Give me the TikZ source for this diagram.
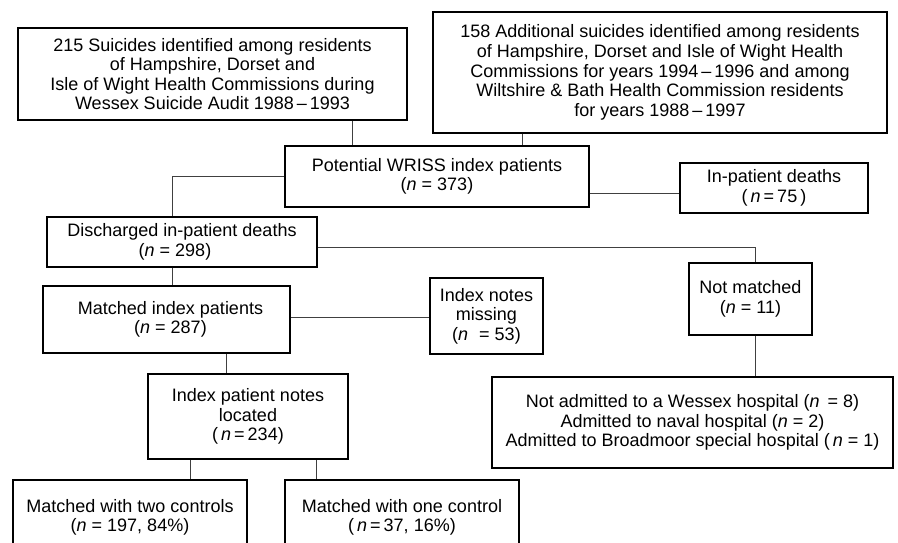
\documentclass[tikz,border=0pt]{standalone}
\usepackage{fontspec}
\setmainfont{Liberation Sans}
\begin{document}
\begin{tikzpicture}[x=1pt,y=-1pt,
  box/.style={draw=black, line width=1.3pt, inner sep=0pt, align=center,
    font=\fontsize{18}{19.6}\selectfont, fill=white},
  thickbox/.style={box, line width=2.6pt},
  conn/.style={draw=black!75, line width=0.8pt}]
\useasboundingbox (0,0) rectangle (898,543);
\clip (0,0) rectangle (898,543);
\fill[white] (0,0) rectangle (898,543);

% helper coordinates for connector lines
\coordinate (xA) at (352,0);
\coordinate (xB) at (522,0);
\coordinate (yPI) at (0,193);
\coordinate (xD) at (172,0);
\coordinate (yDN) at (0,247);
\coordinate (xNM) at (755,0);
\coordinate (yMI) at (0,317);
\coordinate (xML) at (226,0);
\coordinate (xLT) at (190,0);
\coordinate (xLO) at (316,0);

% boxes
\node[box, minimum width=389pt, minimum height=92pt] (A) at (212.5,74)
  {215 Suicides identified among residents\\of Hampshire, Dorset and\\Isle of Wight Health Commissions during\\Wessex Suicide Audit 1988\,–\,1993};
\node[box, minimum width=454pt, minimum height=121pt] (B) at (660,72.5)
  {158 Additional suicides identified among residents\\of Hampshire, Dorset and Isle of Wight Health\\Commissions for years 1994\,–\,1996 and among\\Wiltshire \& Bath Health Commission residents\\for years 1988\,–\,1997};
\node[box, minimum width=304pt, minimum height=61pt] (P) at (437,176.5)
  {Potential WRISS index patients\\(\textit{n} = 373)};
\node[box, minimum width=188pt, minimum height=50pt] (I) at (774,188)
  {In-patient deaths\\(\,\textit{n}\,=\,75\,)};
\node[box, minimum width=270pt, minimum height=50pt] (D) at (182,242)
  {Discharged in-patient deaths\\(\textit{n} = 298)\hspace*{14pt}};
\node[box, minimum width=247pt, minimum height=67pt] (M) at (166.5,319.5)
  {\hspace*{8pt}Matched index patients\\\hspace*{8pt}(\textit{n} = 287)};
\node[box, minimum width=113pt, minimum height=76pt] (N) at (486.5,316)
  {Index notes\\missing\\(\textit{n}\,\, = 53)};
\node[box, minimum width=123pt, minimum height=72pt] (NM) at (750.5,299)
  {Not matched\\(\textit{n} = 11)};
\node[box, minimum width=401pt, minimum height=91pt] (NA) at (692.5,422.5)
  {Not admitted to a Wessex hospital (\textit{n}\, = 8)\\Admitted to naval hospital (\textit{n} = 2)\\Admitted to Broadmoor special hospital (\,\textit{n} = 1)};
\node[thickbox, minimum width=200pt, minimum height=85pt] (L) at (248,416.5)
  {Index patient notes\\located\\(\,\textit{n}\,=\,234)};
\node[thickbox, minimum width=234pt, minimum height=75pt] (T) at (130,517.5)
  {Matched with two controls\\(\textit{n} = 197, 84\%)};
\node[thickbox, minimum width=234pt, minimum height=75pt] (O) at (402,517.5)
  {Matched with one control\\(\,\textit{n}\,=\,37, 16\%)};

% connectors
\path[conn] (A.south -| xA) -- (P.north -| xA);
\path[conn] (B.south -| xB) -- (P.north -| xB);
\path[conn] (P.east |- yPI) -- (I.west |- yPI);
\path[conn] (P.west) -- (P.west -| xD) -- (D.north -| xD);
\path[conn] (D.east |- yDN) -- (yDN -| xNM) -- (NM.north -| xNM);
\path[conn] (NM.south -| xNM) -- (NA.north -| xNM);
\path[conn] (D.south -| xD) -- (M.north -| xD);
\path[conn] (M.east |- yMI) -- (N.west |- yMI);
\path[conn] (M.south -| xML) -- (L.north -| xML);
\path[conn] (L.south -| xLT) -- (T.north -| xLT);
\path[conn] (L.south -| xLO) -- (O.north -| xLO);
\end{tikzpicture}
\end{document}
